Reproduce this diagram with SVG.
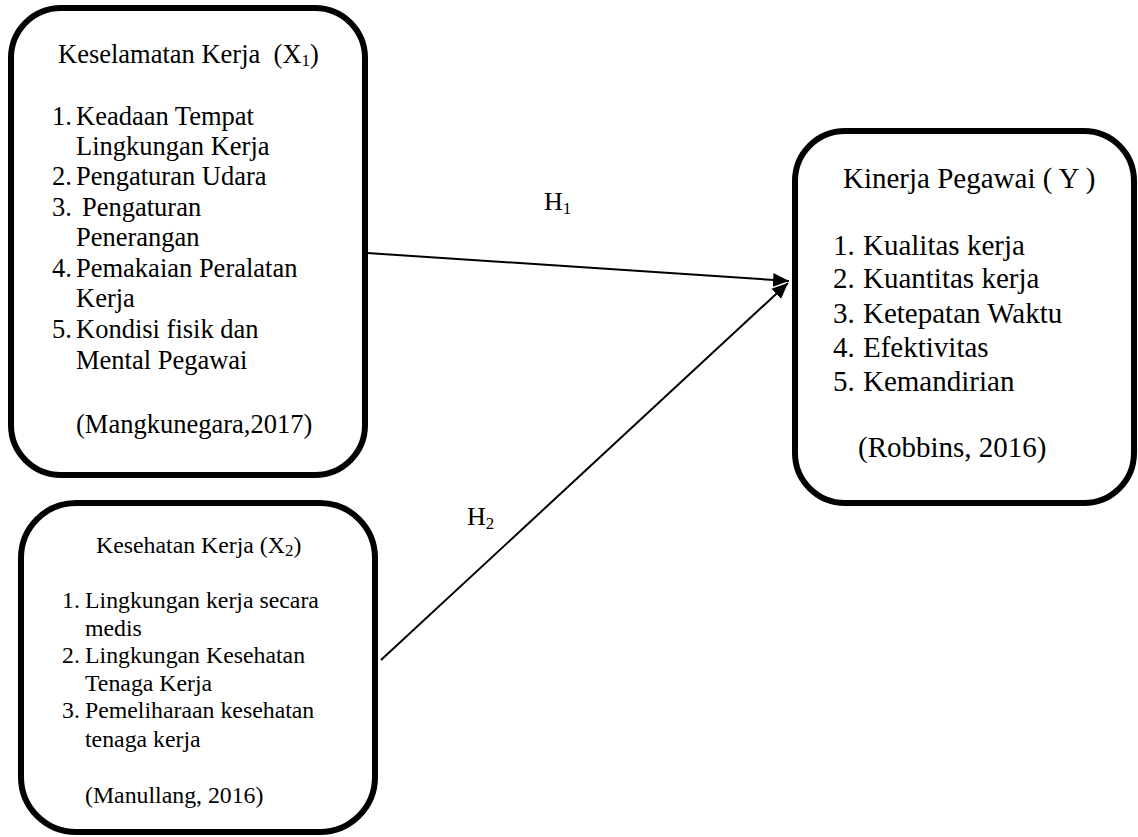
<svg xmlns="http://www.w3.org/2000/svg" width="1138" height="837" viewBox="0 0 1138 837">
<style>
.box{fill:#fff;stroke:#000;stroke-width:6}
.t{font-family:"Liberation Serif","Times New Roman",serif;fill:#000;white-space:pre}
.b1{font-size:26.5px}
.b2{font-size:23.8px}
.b3{font-size:29px}
.h{font-size:26px}
.sub{font-size:17px}
.conn{stroke:#000;stroke-width:2;fill:none}
</style>
<defs>
<marker id="arr" markerUnits="userSpaceOnUse" markerWidth="18" markerHeight="16" refX="16" refY="8" orient="auto">
<path d="M0,1 L16,8 L0,15 Z" fill="#000"/>
</marker>
</defs>
<rect width="1138" height="837" fill="#fff"/>

<g id="connectors">
<line class="conn" x1="367" y1="253" x2="789" y2="281" marker-end="url(#arr)"/>
<line class="conn" x1="381" y1="660" x2="788" y2="283" marker-end="url(#arr)"/>
<text class="t h" x="544" y="210">H<tspan class="sub" dy="4">1</tspan></text>
<text class="t h" x="467" y="525">H<tspan class="sub" dy="4">2</tspan></text>
</g>

<g id="node-x1">
<rect class="box" x="11" y="8" width="354" height="467" rx="50" ry="50"/>
<text class="t b1" x="58" y="63" xml:space="preserve">Keselamatan Kerja  (X<tspan class="sub" dy="3">1</tspan><tspan dy="-3">)</tspan></text>
<text class="t b1" x="52" y="125">1.</text><text class="t b1" x="76" y="125">Keadaan Tempat</text>
<text class="t b1" x="76" y="155">Lingkungan Kerja</text>
<text class="t b1" x="52" y="185">2.</text><text class="t b1" x="76" y="185">Pengaturan Udara</text>
<text class="t b1" x="52" y="216">3.</text><text class="t b1" x="82" y="216">Pengaturan</text>
<text class="t b1" x="76" y="246">Penerangan</text>
<text class="t b1" x="52" y="277">4.</text><text class="t b1" x="76" y="277">Pemakaian Peralatan</text>
<text class="t b1" x="76" y="307">Kerja</text>
<text class="t b1" x="52" y="338">5.</text><text class="t b1" x="76" y="338">Kondisi fisik dan</text>
<text class="t b1" x="76" y="369">Mental Pegawai</text>
<text class="t b1" x="76" y="433">(Mangkunegara,2017)</text>
</g>

<g id="node-x2">
<rect class="box" x="21" y="503" width="354" height="329" rx="55" ry="55"/>
<text class="t b2" x="96" y="553">Kesehatan Kerja (X<tspan class="sub" dy="3">2</tspan><tspan dy="-3">)</tspan></text>
<text class="t b2" x="62" y="608">1.</text><text class="t b2" x="85" y="608">Lingkungan kerja secara</text>
<text class="t b2" x="85" y="636">medis</text>
<text class="t b2" x="62" y="663">2.</text><text class="t b2" x="85" y="663">Lingkungan Kesehatan</text>
<text class="t b2" x="85" y="691">Tenaga Kerja</text>
<text class="t b2" x="62" y="718">3.</text><text class="t b2" x="85" y="718">Pemeliharaan kesehatan</text>
<text class="t b2" x="85" y="747">tenaga kerja</text>
<text class="t b2" x="85" y="803">(Manullang, 2016)</text>
</g>

<g id="node-y">
<rect class="box" x="795" y="131" width="339" height="372" rx="50" ry="50"/>
<text class="t b3" x="843" y="188">Kinerja Pegawai ( Y )</text>
<text class="t b3" x="833" y="255">1.</text><text class="t b3" x="863" y="255">Kualitas kerja</text>
<text class="t b3" x="833" y="288">2.</text><text class="t b3" x="863" y="288">Kuantitas kerja</text>
<text class="t b3" x="833" y="323">3.</text><text class="t b3" x="863" y="323">Ketepatan Waktu</text>
<text class="t b3" x="833" y="357">4.</text><text class="t b3" x="863" y="357">Efektivitas</text>
<text class="t b3" x="833" y="391">5.</text><text class="t b3" x="863" y="391">Kemandirian</text>
<text class="t b3" x="858" y="457">(Robbins, 2016)</text>
</g>
</svg>
